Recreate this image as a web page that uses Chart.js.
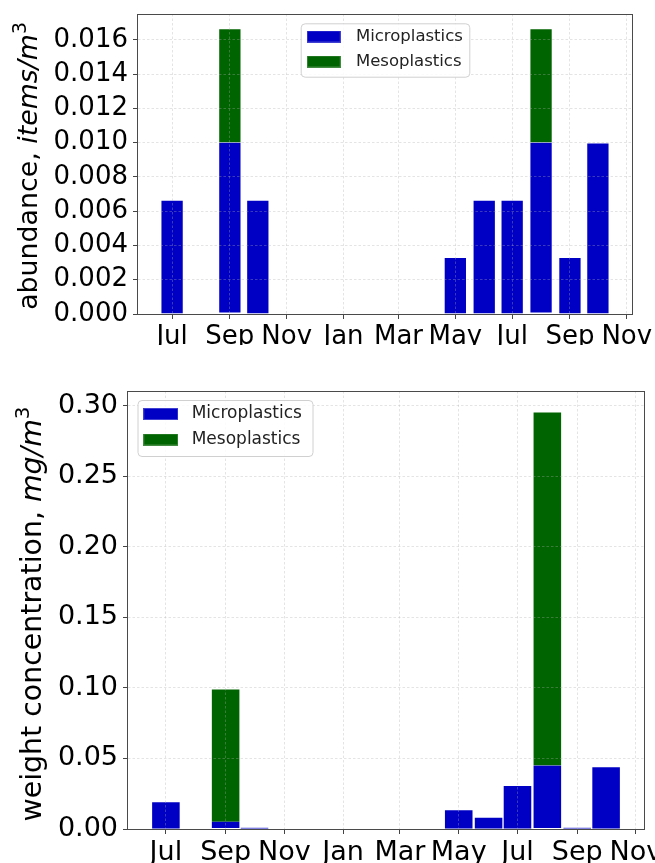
<!DOCTYPE html>
<html><head><meta charset="utf-8">
<script src="https://cdn.jsdelivr.net/npm/chart.js@4.4.1/dist/chart.umd.min.js"></script>
<style>
html,body{margin:0;padding:0;background:#fff;}
#wrap{position:relative;width:655px;height:863px;overflow:hidden;background:#fff;}
canvas{position:absolute;left:0;display:block;}
</style>
</head><body>
<div id="wrap">
<canvas id="c1" width="655" height="345" style="top:0px"></canvas>
<canvas id="c2" width="655" height="518" style="top:345px"></canvas>
</div>
<script>
// ---------------- data ----------------
const sampleMonths = ['2017-07','2017-09','2017-10','2018-05','2018-06','2018-07','2018-08','2018-09','2018-10'];
const seriesNames = ['Microplastics','Mesoplastics'];
const abundanceMicro = [0.00667, 0.0100, 0.00667, 0.00333, 0.00667, 0.00667, 0.0100, 0.00333, 0.0100];
const abundanceMeso  = [0, 0.00667, 0, 0, 0, 0, 0.00667, 0, 0];
const weightMicro = [0.0195, 0.0052, 0.0010, 0.0138, 0.0085, 0.0310, 0.0450, 0.0010, 0.0442];
const weightMeso  = [0, 0.0941, 0, 0, 0, 0, 0.2505, 0, 0];
const tickMonths = ['2017-07','2017-09','2017-11','2018-01','2018-03','2018-05','2018-07','2018-09','2018-11'];
const tickLabels = ['Jul','Sep','Nov','Jan','Mar','May','Jul','Sep','Nov'];
const abundanceTitle = [['abundance, ','n'],['items/m','i'],['3','s']];
const weightTitle = [['weight concentration, ','n'],['mg/m','i'],['3','s']];

const BLUE = '#0000C4', GREEN = '#006400';
const FONT = '"DejaVu Sans", "Liberation Sans", sans-serif';

function day(s){ const p = s.split('-').map(Number); return (Date.UTC(p[0], p[1]-1, 1) - Date.UTC(2017, 6, 1)) / 864e5; }

const handleCache = {};
function handleCanvas(color, w, h){
  const k = color + w + 'x' + h;
  if (handleCache[k]) return handleCache[k];
  const c = document.createElement('canvas'); c.width = w; c.height = h;
  const x = c.getContext('2d');
  x.fillStyle = color; x.fillRect(0, 0, w, h);
  x.strokeStyle = 'rgba(255,255,255,0.25)'; x.lineWidth = 1; x.strokeRect(0.5, 0.5, w-1, h-1);
  handleCache[k] = c; return c;
}

function roundRect(ctx, x, y, w, h, r){
  ctx.beginPath();
  ctx.moveTo(x + r, y); ctx.lineTo(x + w - r, y); ctx.arcTo(x + w, y, x + w, y + r, r);
  ctx.lineTo(x + w, y + h - r); ctx.arcTo(x + w, y + h, x + w - r, y + h, r);
  ctx.lineTo(x + r, y + h); ctx.arcTo(x, y + h, x, y + h - r, r);
  ctx.lineTo(x, y + r); ctx.arcTo(x, y, x + r, y, r); ctx.closePath();
}

function makeChart(id, micro, meso, g){
  const xs = sampleMonths.map(day);
  let minGap = Infinity;
  for (let i = 1; i < xs.length; i++) minGap = Math.min(minGap, xs[i] - xs[i-1]);
  const lo = xs[0] - g.barDays/2, hi = xs[xs.length-1] + g.barDays/2;
  const marg = 0.05 * (hi - lo);
  const totals = micro.map((v, i) => v + meso[i]);
  const yMax = 1.05 * Math.max(...totals);
  const tickFont = {family: FONT, size: g.tickFont};

  const gridOpts = {
    display: true, z: 1, color: 'rgba(175,175,175,0.42)', lineWidth: 0.8, offset: false,
    drawOnChartArea: true, drawTicks: true, tickLength: 5, tickColor: '#444', tickWidth: 1,
    tickBorderDash: []
  };
  const borderOpts = {display: false, dash: [2.5, 2], dashOffset: 0};

  const plugin = {
    id: 'custom_' + id,
    afterInit(chart){
      const L = chart.legend;
      L._layers = () => [{z: 2, draw: () => {
        const ctx = chart.ctx, f = g.frame;
        ctx.save();
        roundRect(ctx, f[0] + 0.5, f[1] + 0.5, f[2] - f[0], f[3] - f[1], 4);
        ctx.fillStyle = 'rgba(255,255,255,0.85)'; ctx.fill();
        ctx.strokeStyle = '#d0d0d0'; ctx.lineWidth = 1; ctx.stroke();
        ctx.restore();
        L.draw(chart.chartArea);
      }}];
    },
    afterLayout(chart){
      const L = chart.legend;
      L.left = g.legLeft; L.top = g.legTop; L.right = g.legLeft + 320; L.bottom = g.legTop + 140;
      L.width = 320; L.height = 140;
    },
    afterDraw(chart){
      const ctx = chart.ctx, a = chart.chartArea;
      ctx.save();
      ctx.strokeStyle = '#4a4a4a'; ctx.lineWidth = 1;
      ctx.strokeRect(Math.round(a.left) + 0.5 - 1, Math.round(a.top) + 0.5, Math.round(a.right - a.left) + 1, Math.round(a.bottom - a.top));
      // y axis title, mixed styles
      const segs = g.title.map(s => {
        let font, rise = 0;
        if (s[1] === 'n') font = g.titleFont + 'px ' + FONT;
        else if (s[1] === 'i') font = 'italic ' + g.titleFont + 'px ' + FONT;
        else { font = (g.titleFont * 0.7).toFixed(1) + 'px ' + FONT; rise = g.titleFont * 0.42; }
        ctx.font = font;
        return {text: s[0], font, rise, w: ctx.measureText(s[0]).width};
      });
      const total = segs.reduce((t, s) => t + s.w, 0);
      ctx.translate(g.titleX, g.titleY);
      ctx.rotate(-Math.PI / 2);
      ctx.fillStyle = '#000'; ctx.textAlign = 'left'; ctx.textBaseline = 'alphabetic';
      let x = -total / 2;
      segs.forEach(s => { ctx.font = s.font; ctx.fillText(s.text, x, -s.rise); x += s.w; });
      ctx.restore();
    }
  };

  return new Chart(document.getElementById(id), {
    type: 'bar',
    data: {
      datasets: [
        {label: seriesNames[0], data: xs.map((x, i) => ({x, y: micro[i]})), backgroundColor: BLUE,
         borderColor: 'rgba(255,255,255,0.28)', borderWidth: 1, borderSkipped: 'middle'},
        {label: seriesNames[1], data: xs.map((x, i) => ({x, y: meso[i]})), backgroundColor: GREEN,
         borderColor: 'rgba(255,255,255,0.28)', borderWidth: 1, borderSkipped: 'middle'}
      ]
    },
    options: {
      responsive: false, animation: false, events: [],
      categoryPercentage: 1, barPercentage: g.barDays / minGap,
      layout: {padding: {left: 0, right: g.padRight, top: g.padTop, bottom: 0}},
      plugins: {
        tooltip: {enabled: false},
        legend: {
          display: true, position: 'chartArea', align: 'start',
          labels: {
            usePointStyle: true, pointStyleWidth: g.legW, padding: g.legPad, color: '#222',
            font: {family: FONT, size: g.legFont},
            generateLabels: (chart) => chart.data.datasets.map((ds, i) => ({
              text: ds.label, fillStyle: ds.backgroundColor, strokeStyle: ds.backgroundColor, lineWidth: 0,
              pointStyle: handleCanvas(ds.backgroundColor, g.hw, g.hh), datasetIndex: i, hidden: false, fontColor: '#222'
            }))
          }
        }
      },
      scales: {
        x: {
          type: 'linear', stacked: true, offset: false, min: lo - marg, max: hi + marg,
          afterBuildTicks: (s) => { s.ticks = tickMonths.map(m => ({value: day(m)})); },
          afterFit: (s) => { s.height = g.xH; s.paddingLeft = 0; s.paddingRight = 0; },
          ticks: {callback: (v, i) => tickLabels[i], font: tickFont, color: '#000', padding: g.xPad, maxRotation: 0, autoSkip: false},
          grid: gridOpts, border: borderOpts
        },
        y: {
          type: 'linear', stacked: true, offset: false, min: 0, max: yMax,
          afterFit: (s) => { s.width = g.yW; s.paddingTop = 0; s.paddingBottom = 0; },
          ticks: {stepSize: g.step, includeBounds: false, callback: (v) => v.toFixed(g.dec), font: tickFont, color: '#000', padding: 5},
          grid: gridOpts, border: borderOpts
        }
      }
    },
    plugins: [plugin]
  });
}

makeChart('c1', abundanceMicro, abundanceMeso, {
  barDays: 25, tickFont: 26, titleFont: 26.8, titleX: 37, titleY: 166, title: abundanceTitle,
  padRight: 23, padTop: 14, yW: 138, xH: 31, xPad: 3, step: 0.002, dec: 3,
  legFont: 16.5, legPad: 8.5, legW: 48, hw: 34, hh: 12, legLeft: 291.2, legTop: 19.75,
  frame: [300.7, 23.3, 469.3, 76.7]
});
makeChart('c2', weightMicro, weightMeso, {
  barDays: 30, tickFont: 27, titleFont: 28.4, titleX: 41, titleY: 269, title: weightTitle,
  padRight: 11, padTop: 46, yW: 128, xH: 34, xPad: 3, step: 0.05, dec: 2,
  legFont: 17, legPad: 8.5, legW: 44.8, hw: 35, hh: 12, legLeft: 129.9, legTop: 52,
  frame: [137.5, 55, 312.5, 111]
});
</script>
</body></html>
